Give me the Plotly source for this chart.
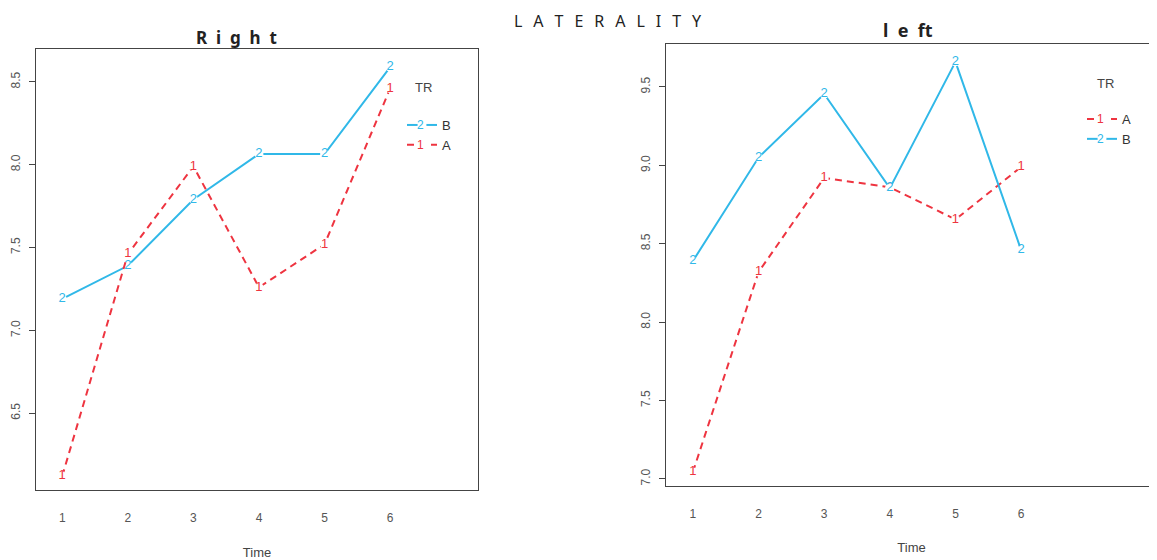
import plotly.graph_objects as go

time = [1, 2, 3, 4, 5, 6]
time_labels = ["1", "2", "3", "4", "5", "6"]

right_A = [6.12, 7.46, 7.99, 7.26, 7.52, 8.46]
right_B = [7.19, 7.39, 7.79, 8.065, 8.065, 8.59]
left_A = [7.045, 8.32, 8.92, 8.86, 8.655, 8.99]
left_B = [8.39, 9.05, 9.455, 8.855, 9.66, 8.46]

right_yticks = [6.5, 7.0, 7.5, 8.0, 8.5]
left_yticks = [7.0, 7.5, 8.0, 8.5, 9.0, 9.5]

RED = "#EE3440"
BLUE = "#30B8E8"
OFF = 8  # page body margin
FW, FH = 1157 - OFF, 560 - OFF


def px(x):
    return (x - OFF) / FW


def py(y):
    return 1 - (y - OFF) / FH


fig = go.Figure()


def add_series(x, y, name, label, color, dash, xa, ya, legend, rank):
    fig.add_trace(go.Scatter(
        x=x, y=y, name=name, mode="lines+markers+text",
        text=[label] * len(x), textposition="middle center",
        textfont=dict(color=color, size=13, family="Liberation Sans"),
        line=dict(color=color, width=2, dash=dash),
        marker=dict(color="white", size=9, line=dict(width=0)),
        xaxis=xa, yaxis=ya, legend=legend, legendrank=rank,
        cliponaxis=False,
    ))


add_series(time, right_B, "B", "2", BLUE, "solid", "x", "y", "legend", 1)
add_series(time, right_A, "A", "1", RED, "7px,5px", "x", "y", "legend", 2)
add_series(time, left_A, "A", "1", RED, "7px,5px", "x2", "y2", "legend2", 1)
add_series(time, left_B, "B", "2", BLUE, "solid", "x2", "y2", "legend2", 2)

tickfont = dict(family="Liberation Sans", size=12, color="#555555")
axcommon = dict(showgrid=False, zeroline=False, showline=True, linecolor="#444444",
                linewidth=1.3, tickfont=tickfont)
xtitle = dict(text="Time", font=dict(size=13, color="#444444"))

fig.update_layout(
    width=FW, height=FH,
    margin=dict(l=0, r=0, t=0, b=0),
    paper_bgcolor="white", plot_bgcolor="white",
    font=dict(family="Liberation Sans", color="#444444"),
    xaxis=dict(domain=[px(36), px(478)], range=[0.6, 7.34], anchor="y",
               tickvals=time, ticktext=time_labels, ticks="", ticklabelstandoff=16,
               mirror=True, automargin=False,
               title=dict(standoff=24, **xtitle), **axcommon),
    yaxis=dict(domain=[py(490), py(49)], range=[6.036, 8.699], anchor="x",
               tickvals=right_yticks, tickformat=".1f", ticks="outside", ticklen=6,
               tickcolor="#444444", tickangle=-90, ticklabelstandoff=4, mirror=True,
               automargin=False, **axcommon),
    xaxis2=dict(domain=[px(666), 1.0], range=[0.59, 8.07], anchor="y2",
                tickvals=time, ticktext=time_labels, ticks="", ticklabelstandoff=16,
                mirror=True, automargin=False,
                title=dict(standoff=23, **xtitle), **axcommon),
    yaxis2=dict(domain=[py(486), py(44)], range=[6.955, 9.774], anchor="x2",
                tickvals=left_yticks, tickformat=".1f", ticks="outside", ticklen=6,
                tickcolor="#444444", tickangle=-90, ticklabelstandoff=4,
                automargin=False, **axcommon),
    legend=dict(x=px(402), y=py(110), xanchor="left", yanchor="top",
                bgcolor="rgba(0,0,0,0)", font=dict(size=13, color="#333333"),
                itemwidth=30, tracegroupgap=0),
    legend2=dict(x=px(1082), y=py(104), xanchor="left", yanchor="top",
                 bgcolor="rgba(0,0,0,0)", font=dict(size=13, color="#333333"),
                 itemwidth=30, tracegroupgap=0),
    showlegend=True,
)

SP = "\u00a0\u00a0\u2009"
SP2 = "\u00a0\u00a0"
annos = [
    dict(text=SP.join("LATERALITY"), x=px(608), y=1.0, size=16, color="#222222",
         family="Noto Sans", yanchor="top"),
    dict(text="<b>" + SP2.join("Right") + "</b>", x=px(236), y=py(37), size=17, color="#222222",
         family="Noto Sans", yanchor="middle"),
    dict(text="<b>l" + SP2 + "e" + SP2 + "ft</b>", x=px(908), y=py(30), size=18, color="#222222",
         family="Noto Sans", yanchor="middle"),
    dict(text="TR", x=px(423), y=py(88), size=13, color="#444444", family="Liberation Sans",
         yanchor="middle"),
    dict(text="TR", x=px(1105), y=py(83), size=13, color="#444444", family="Liberation Sans",
         yanchor="middle"),
    # numerals drawn on the legend keys, as R's interaction.plot does
    dict(text="2", x=px(420), y=py(125), size=12, color=BLUE, family="Liberation Sans",
         yanchor="middle"),
    dict(text="1", x=px(420), y=py(145), size=12, color=RED, family="Liberation Sans",
         yanchor="middle"),
    dict(text="1", x=px(1100), y=py(119), size=12, color=RED, family="Liberation Sans",
         yanchor="middle"),
    dict(text="2", x=px(1100), y=py(139), size=12, color=BLUE, family="Liberation Sans",
         yanchor="middle"),
]
for a in annos:
    fig.add_annotation(text=a["text"], x=a["x"], y=a["y"], xref="paper", yref="paper",
                       showarrow=False, xanchor="center", yanchor=a["yanchor"],
                       font=dict(size=a["size"], color=a["color"], family=a["family"]))

fig.write_html("out.html")
